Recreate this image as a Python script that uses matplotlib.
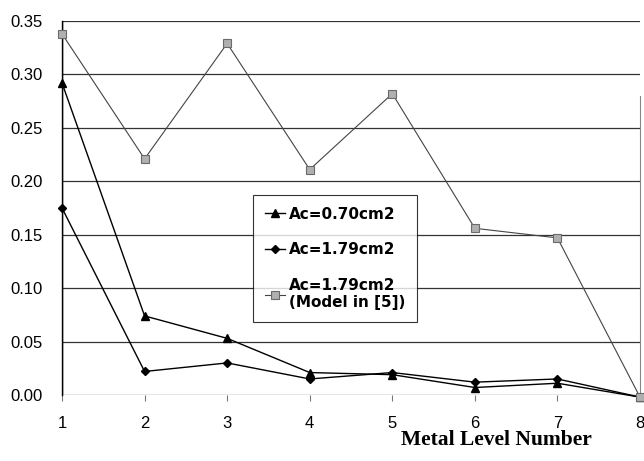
import matplotlib.pyplot as plt

niveis = [1, 2, 3, 4, 5, 6, 7, 8]
ac070 = [0.292, 0.074, 0.053, 0.021, 0.019, 0.007, 0.011, -0.002]
ac179 = [0.175, 0.022, 0.030, 0.015, 0.021, 0.012, 0.015, -0.002]
modelo = [0.338, 0.221, 0.329, 0.211, 0.282, 0.156, 0.147, -0.002]
yticks = [0.00, 0.05, 0.10, 0.15, 0.20, 0.25, 0.30, 0.35]

fig = plt.figure(figsize=(6.44, 4.61), dpi=100)
ax = fig.add_axes([0.0963, 0.1432, 0.8975, 0.8112])

# linhas de grade horizontais
for v in yticks:
    ax.axhline(v, color='#333333', lw=0.9, zorder=1)

ax.plot(niveis, ac070, '-^', color='black', lw=1.0, ms=5.5, label='Ac=0.70cm2',
        clip_on=False, zorder=3)
ax.plot(niveis, ac179, '-D', color='black', lw=1.0, ms=4, label='Ac=1.79cm2',
        clip_on=False, zorder=3)
ax.plot(niveis, modelo, '-s', color='#444444', lw=0.8, ms=5.5,
        markerfacecolor='#b0b0b0', markeredgecolor='#6a6a6a', markeredgewidth=0.8,
        label='Ac=1.79cm2\n(Model in [5])', clip_on=False, zorder=4)

ax.set_xlim(1, 8)
ax.set_ylim(0, 0.35)
ax.set_yticks(yticks)
ax.set_yticklabels(['%.2f' % v for v in yticks], family='Liberation Sans')
ax.set_xticks(niveis)
ax.set_xticklabels([str(n) for n in niveis], family='Liberation Sans')

for s in ['top', 'bottom', 'right']:
    ax.spines[s].set_visible(False)
ax.spines['left'].set_linewidth(1.0)
ax.plot([1, 1], [0, 0.35], color='black', lw=1.0)
ax.plot([8, 8], [0, 0.28], color='#888888', lw=0.8, clip_on=False)

ax.tick_params(axis='y', length=0, pad=14, labelsize=12)
ax.tick_params(axis='x', length=4, width=0.8, color='#777777', direction='out',
               pad=11, labelsize=12)

ax.text(0.917, -0.12, 'Metal Level Number', transform=ax.transAxes, ha='right',
        va='center', fontsize=15.5, fontweight='bold', family='Liberation Serif')

leg = ax.legend(loc='center left', bbox_to_anchor=(0.318, 0.365), frameon=True,
                fancybox=False, edgecolor='black', handlelength=1.3,
                handletextpad=0.3, labelspacing=1.35, borderpad=0.75,
                prop={'family': 'DejaVu Sans', 'weight': 'bold', 'size': 11})
leg.get_frame().set_linewidth(0.8)

fig.savefig('out.png', dpi=100)
